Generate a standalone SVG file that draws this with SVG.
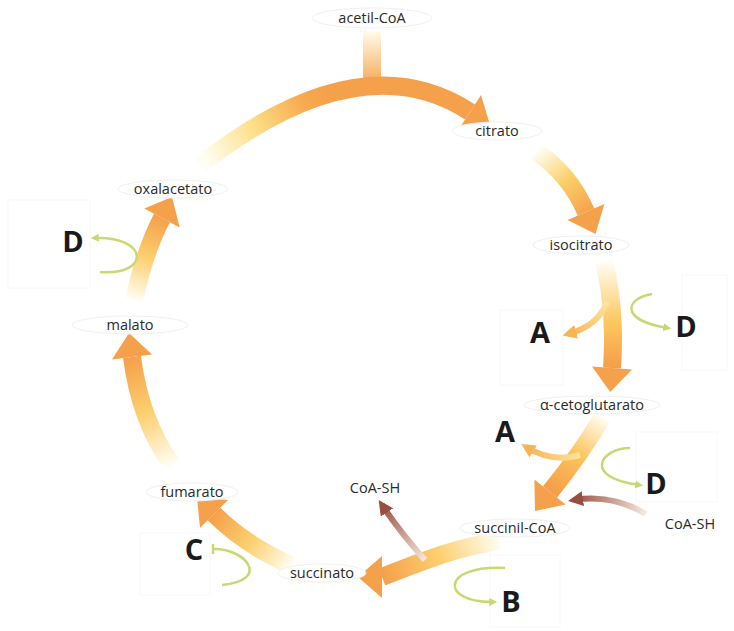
<svg xmlns="http://www.w3.org/2000/svg" width="734" height="631" viewBox="0 0 734 631">
<style>
.lbl{font-family:"Open Sans","Liberation Sans",sans-serif;font-size:14.5px;fill:#2a2a2a;text-anchor:middle}
.let{font-family:"Open Sans","Liberation Sans",sans-serif;font-size:29px;font-weight:bold;fill:#1a1a1a;text-anchor:middle}
.ell{fill:#ffffff;stroke:#f0f0f0;stroke-width:1}
.box{fill:none;stroke:#f8f8f8;stroke-width:1}
.shaft{fill:none;stroke-width:18}
.head{fill:#f5a04a}
.thin{fill:none;stroke-width:6}
.grn{fill:none;stroke:#c9d873;stroke-width:2.5}
</style>
<defs>
<linearGradient id="g0" gradientUnits="userSpaceOnUse" x1="372" y1="32" x2="372" y2="88"><stop offset="0" stop-color="#fffbe8"/><stop offset="1" stop-color="#f6a24a"/></linearGradient>
<linearGradient id="g1" gradientUnits="userSpaceOnUse" x1="205" y1="160" x2="330" y2="90"><stop offset="0" stop-color="#fffef4"/><stop offset="0.4" stop-color="#fde08a"/><stop offset="0.8" stop-color="#f7aa4e"/><stop offset="1" stop-color="#f5a04a"/></linearGradient>
<linearGradient id="g2" gradientUnits="userSpaceOnUse" x1="538" y1="152" x2="588" y2="215"><stop offset="0" stop-color="#fffdf0"/><stop offset="0.5" stop-color="#fbcf68"/><stop offset="1" stop-color="#f5a04a"/></linearGradient>
<linearGradient id="g3" gradientUnits="userSpaceOnUse" x1="605" y1="262" x2="612" y2="370"><stop offset="0" stop-color="#fffef4"/><stop offset="0.55" stop-color="#fbc860"/><stop offset="1" stop-color="#f59c48"/></linearGradient>
<linearGradient id="g4" gradientUnits="userSpaceOnUse" x1="603" y1="416" x2="550" y2="492"><stop offset="0" stop-color="#fffef4"/><stop offset="0.5" stop-color="#fbc45c"/><stop offset="1" stop-color="#f59c48"/></linearGradient>
<linearGradient id="g5" gradientUnits="userSpaceOnUse" x1="500" y1="541" x2="382" y2="577"><stop offset="0" stop-color="#fffef4"/><stop offset="0.5" stop-color="#fcd070"/><stop offset="1" stop-color="#f5a04a"/></linearGradient>
<linearGradient id="g6" gradientUnits="userSpaceOnUse" x1="292" y1="566" x2="214" y2="514"><stop offset="0" stop-color="#fffef4"/><stop offset="0.5" stop-color="#fcd070"/><stop offset="1" stop-color="#f5a04a"/></linearGradient>
<linearGradient id="g7" gradientUnits="userSpaceOnUse" x1="172" y1="465" x2="132" y2="357"><stop offset="0" stop-color="#fffef4"/><stop offset="0.5" stop-color="#fcd070"/><stop offset="1" stop-color="#f5a04a"/></linearGradient>
<linearGradient id="g8" gradientUnits="userSpaceOnUse" x1="134" y1="300" x2="162" y2="218"><stop offset="0" stop-color="#fffef4"/><stop offset="0.5" stop-color="#fcd070"/><stop offset="1" stop-color="#f5a04a"/></linearGradient>
<linearGradient id="ga" gradientUnits="userSpaceOnUse" x1="607" y1="300" x2="568" y2="334"><stop offset="0" stop-color="#fde6a0"/><stop offset="1" stop-color="#f7b455"/></linearGradient>
<linearGradient id="gb" gradientUnits="userSpaceOnUse" x1="580" y1="455" x2="526" y2="447"><stop offset="0" stop-color="#fce29a"/><stop offset="1" stop-color="#f7b455"/></linearGradient>
<linearGradient id="gc" gradientUnits="userSpaceOnUse" x1="646" y1="514" x2="574" y2="500"><stop offset="0" stop-color="#f7ebe2"/><stop offset="1" stop-color="#9a4e40"/></linearGradient>
<linearGradient id="gd" gradientUnits="userSpaceOnUse" x1="425" y1="560" x2="382" y2="505"><stop offset="0" stop-color="#f5e8de"/><stop offset="1" stop-color="#9a4e40"/></linearGradient>
<marker id="mo" viewBox="0 0 10 10" refX="6" refY="5" markerUnits="userSpaceOnUse" markerWidth="14" markerHeight="14" orient="auto"><path d="M0,0 L10,5 L0,10 z" fill="#f7b455"/></marker>
<marker id="mb" viewBox="0 0 10 10" refX="6" refY="5" markerUnits="userSpaceOnUse" markerWidth="15" markerHeight="15" orient="auto"><path d="M0,0 L10,5 L0,10 z" fill="#9a4e40"/></marker>
<marker id="mg" viewBox="0 0 10 10" refX="6" refY="5" markerUnits="userSpaceOnUse" markerWidth="8" markerHeight="8" orient="auto"><path d="M0,0 L10,5 L0,10 z" fill="#c9d873"/></marker>
</defs>
<rect width="734" height="631" fill="#ffffff"/>

<g id="boxes">
<rect class="box" x="8" y="200" width="82" height="88"/>
<rect class="box" x="500" y="310" width="63" height="75"/>
<rect class="box" x="682" y="275" width="45" height="95"/>
<rect class="box" x="636" y="432" width="81" height="70"/>
<rect class="box" x="490" y="555" width="70" height="72"/>
<rect class="box" x="140" y="533" width="70" height="62"/>
</g>

<g id="connectors">
<path class="shaft" stroke="url(#g0)" d="M372 32 L372 90"/>
<path class="shaft" stroke="url(#g1)" d="M200 165 Q360 40 470 112"/>
<polygon class="head" points="490,125 459,129 481,95"/>
<path class="shaft" stroke="url(#g2)" d="M537 152 Q570 175 586 212"/>
<polygon class="head" points="595.5,234 567.6,219.9 604.4,204.1"/>
<path class="shaft" stroke="url(#g3)" d="M604 262 Q616 310 612 368"/>
<polygon class="head" points="610.3,392 632,369.4 592,366.6"/>
<path class="shaft" stroke="url(#g4)" d="M602 418 Q580 455 550 492"/>
<polygon class="head" points="535,511 565.6,504.6 534.4,479.4"/>
<path class="shaft" stroke="url(#g5)" d="M500 541 C460 546 420 562 382 577"/>
<polygon class="head" points="358,577 382,556 382,598"/>
<path class="shaft" stroke="url(#g6)" d="M292 566 Q245 545 214 514"/>
<polygon class="head" points="197,497 228,500 200,528"/>
<path class="shaft" stroke="url(#g7)" d="M172 465 Q140 420 132 357"/>
<polygon class="head" points="129,333 152,354.6 112,359.4"/>
<path class="shaft" stroke="url(#g8)" d="M134 300 Q145 250 162 218"/>
<polygon class="head" points="172,197 179.7,227.4 144.3,208.6"/>

<path class="thin" stroke="url(#ga)" d="M607 302 Q598 326 568 334" marker-end="url(#mo)"/>
<path class="thin" stroke="url(#gb)" d="M580 455 Q552 463 526 447" marker-end="url(#mo)"/>
<path class="thin" stroke="url(#gc)" d="M646 514 Q612 494 574 500" marker-end="url(#mb)"/>
<path class="thin" stroke="url(#gd)" d="M425 560 Q400 532 382 505" marker-end="url(#mb)"/>

<path class="grn" d="M652 294 C626 298 618 320 668 328" marker-end="url(#mg)"/>
<path class="grn" d="M630 448 C600 448 582 478 640 485" marker-end="url(#mg)"/>
<path class="grn" d="M505 568 C440 565 440 603 494 602" marker-end="url(#mg)"/>
<path class="grn" d="M213 549 C245 548 272 580 222 585"/>
<path class="grn" d="M213 544 L213 554"/>
<path class="grn" d="M100 272 C150 276 150 236 94 238" marker-end="url(#mg)"/>
</g>

<g id="acetil-CoA"><ellipse class="ell" cx="372" cy="18" rx="60" ry="10"/><text class="lbl" x="372" y="23">acetil-CoA</text></g>
<g id="citrato"><ellipse class="ell" cx="497" cy="131" rx="45" ry="9"/><text class="lbl" x="497" y="136">citrato</text></g>
<g id="isocitrato"><ellipse class="ell" cx="581" cy="245" rx="48" ry="9"/><text class="lbl" x="581" y="250">isocitrato</text></g>
<g id="a-cetoglutarato"><ellipse class="ell" cx="592" cy="405" rx="68" ry="9"/><text class="lbl" x="592" y="410">α-cetoglutarato</text></g>
<g id="succinil-CoA"><ellipse class="ell" cx="515" cy="528" rx="55" ry="9"/><text class="lbl" x="515" y="533">succinil-CoA</text></g>
<g id="succinato"><ellipse class="ell" cx="322" cy="573" rx="44" ry="9"/><text class="lbl" x="322" y="578">succinato</text></g>
<g id="fumarato"><ellipse class="ell" cx="192" cy="492" rx="46" ry="9"/><text class="lbl" x="192" y="497">fumarato</text></g>
<g id="malato"><ellipse class="ell" cx="130" cy="325" rx="58" ry="9"/><text class="lbl" x="130" y="330">malato</text></g>
<g id="oxalacetato"><ellipse class="ell" cx="173" cy="189" rx="55" ry="9"/><text class="lbl" x="173" y="194">oxalacetato</text></g>
<g id="CoA-SH-1"><text class="lbl" x="375" y="493">CoA-SH</text></g>
<g id="CoA-SH-2"><text class="lbl" x="690" y="529">CoA-SH</text></g>

<g id="D1"><text class="let" x="73" y="252">D</text></g>
<g id="A1"><text class="let" x="540" y="343">A</text></g>
<g id="D2"><text class="let" x="686" y="337">D</text></g>
<g id="A2"><text class="let" x="505" y="442">A</text></g>
<g id="D3"><text class="let" x="656" y="494">D</text></g>
<g id="B"><text class="let" x="511" y="612">B</text></g>
<g id="C"><text class="let" x="194" y="560">C</text></g>
</svg>
